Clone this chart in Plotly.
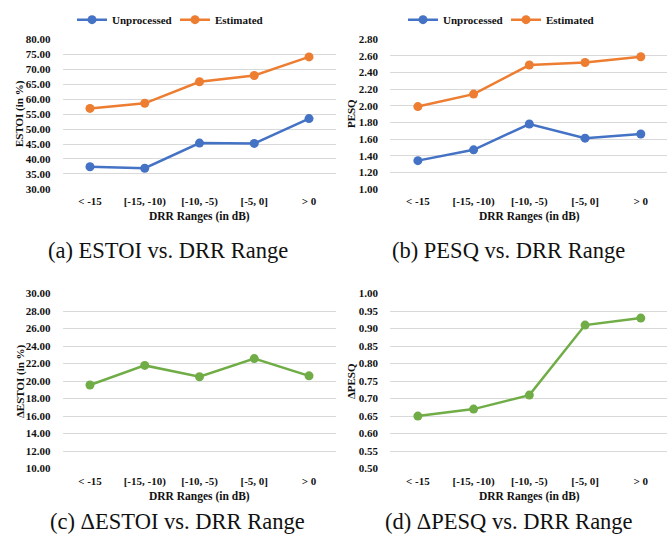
import plotly.graph_objects as go

W, H = 667, 547

categories = ["< -15", "[-15, -10)", "[-10, -5)", "[-5, 0]", "> 0"]
tick_labels = ["&lt; -15", "[-15, -10)", "[-10, -5)", "[-5, 0]", "&gt; 0"]

estoi_unprocessed = [37.4, 36.9, 45.3, 45.2, 53.5]
estoi_estimated = [56.9, 58.6, 65.8, 67.9, 74.1]
pesq_unprocessed = [1.34, 1.47, 1.78, 1.61, 1.66]
pesq_estimated = [1.99, 2.14, 2.49, 2.52, 2.59]
delta_estoi = [19.55, 21.79, 20.49, 22.57, 20.60]
delta_pesq = [0.65, 0.67, 0.71, 0.91, 0.93]

BLUE = "#4472C4"
ORANGE = "#ED7D31"
GREEN = "#70AD47"
GRID = "#D9D9D9"
TXT = "#111111"
FONT = "Liberation Serif"


def xp(px):
    return px / W


def yp(py):
    return 1 - py / H


fig = go.Figure()


def add_line(xa, ya, y, color, name, legend, showlegend):
    fig.add_trace(go.Scatter(
        x=categories, y=y, xaxis=xa, yaxis=ya, name=name, legend=legend,
        showlegend=showlegend, mode="lines+markers",
        line=dict(color=color, width=2.5),
        marker=dict(color=color, size=9),
        hoverinfo="skip",
    ))


add_line("x", "y", estoi_unprocessed, BLUE, "Unprocessed", "legend", True)
add_line("x", "y", estoi_estimated, ORANGE, "Estimated", "legend", True)
add_line("x2", "y2", pesq_unprocessed, BLUE, "Unprocessed", "legend2", True)
add_line("x2", "y2", pesq_estimated, ORANGE, "Estimated", "legend2", True)
add_line("x3", "y3", delta_estoi, GREEN, "ΔESTOI", "legend", False)
add_line("x4", "y4", delta_pesq, GREEN, "ΔPESQ", "legend", False)

tickfont = dict(family=FONT, size=11, color=TXT, weight="bold")

xcommon = dict(type="category", tickvals=categories, ticktext=tick_labels,
               showgrid=False, zeroline=False, showline=False, ticks="",
               tickfont=tickfont, ticklabelstandoff=4, fixedrange=True)
ycommon = dict(showgrid=True, gridcolor=GRID, gridwidth=1, zeroline=False,
               showline=False, ticks="", tickfont=tickfont,
               ticklabelstandoff=11, fixedrange=True)

top = [yp(187), yp(34)]
bot = [yp(473), yp(294)]
left = [xp(62.6), xp(336.4)]
right = [xp(390), 1.0]

fig.update_layout(
    xaxis=dict(domain=left, anchor="y", range=[-0.5, 4.5], **xcommon),
    yaxis=dict(domain=top, anchor="x", range=[30, 80], dtick=5,
               tickformat=".2f", **ycommon),
    xaxis2=dict(domain=right, anchor="y2", range=[-0.5, 4.47], **xcommon),
    yaxis2=dict(domain=top, anchor="x2", range=[1.0, 2.8], dtick=0.2,
                tickformat=".2f", **ycommon),
    xaxis3=dict(domain=left, anchor="y3", range=[-0.5, 4.5], **xcommon),
    yaxis3=dict(domain=bot, anchor="x3", range=[10, 30], dtick=2,
                tickformat=".2f", **ycommon),
    xaxis4=dict(domain=right, anchor="y4", range=[-0.5, 4.47], **xcommon),
    yaxis4=dict(domain=bot, anchor="x4", range=[0.5, 1.0], dtick=0.05,
                tickformat=".2f", **ycommon),
)

legfont = dict(family=FONT, size=11, color=TXT, weight="bold")
fig.update_layout(
    legend=dict(orientation="h", x=xp(72), y=yp(14), xanchor="left",
                yanchor="middle", font=legfont, bgcolor="rgba(0,0,0,0)",
                itemwidth=30, tracegroupgap=0, entrywidth=58,
                entrywidthmode="pixels"),
    legend2=dict(orientation="h", x=xp(403), y=yp(14), xanchor="left",
                 yanchor="middle", font=legfont, bgcolor="rgba(0,0,0,0)",
                 itemwidth=30, tracegroupgap=0, entrywidth=58,
                 entrywidthmode="pixels"),
)

titlefont = dict(family=FONT, size=11, color=TXT, weight="bold")
ann = []
# y-axis titles
for text, x, y in [("ESTOI (in %)", 19, 110.5), ("PESQ", 351, 110.5),
                   ("ΔESTOI (in %)", 20, 383.5), ("ΔPESQ", 351, 383.5)]:
    ann.append(dict(text=text, x=xp(x), y=yp(y), xref="paper", yref="paper",
                    textangle=-90, showarrow=False, font=titlefont,
                    xanchor="center", yanchor="middle"))
# x-axis titles
for x, y in [(199.5, 215), (529, 215), (199.5, 501), (529, 501)]:
    ann.append(dict(text="DRR Ranges (in dB)", x=xp(x), y=yp(y),
                    xref="paper", yref="paper", showarrow=False,
                    font=dict(family=FONT, size=11.5, color=TXT, weight="bold"),
                    xanchor="center", yanchor="middle"))
# captions
capfont = dict(family=FONT, size=22.5, color="#111111")
for text, x, y in [("(a) ESTOI vs. DRR Range", 167.5, 250),
                   ("(b) PESQ vs. DRR Range", 508.5, 250),
                   ("(c) ΔESTOI vs. DRR Range", 177, 527),
                   ("(d) ΔPESQ vs. DRR Range", 509, 527)]:
    ann.append(dict(text=text, x=xp(x), y=yp(y), xref="paper", yref="paper",
                    showarrow=False, font=capfont, xanchor="center",
                    yanchor="middle"))

fig.update_layout(
    annotations=ann,
    width=W, height=H,
    margin=dict(l=0, r=0, t=0, b=0),
    paper_bgcolor="white", plot_bgcolor="white",
    showlegend=True,
)

fig.write_html("out.html", config={"displayModeBar": False})
